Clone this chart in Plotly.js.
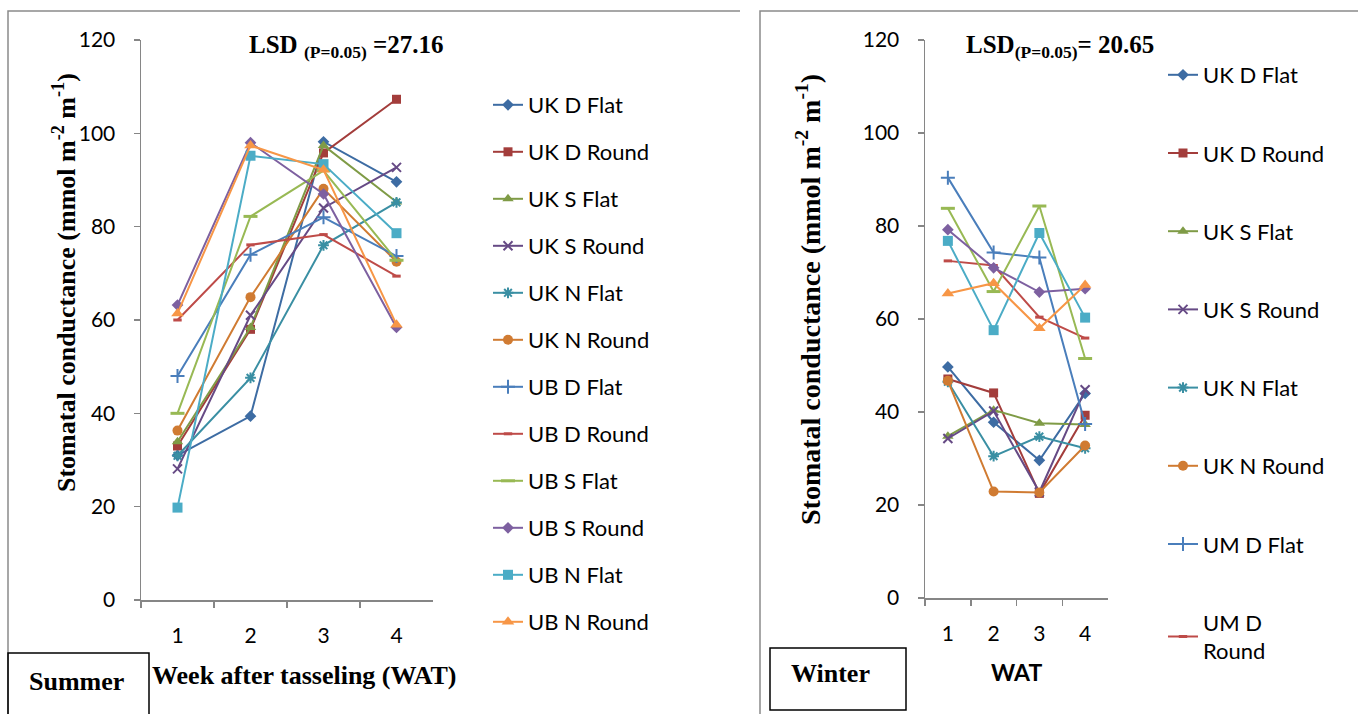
<!DOCTYPE html>
<html>
<head>
<meta charset="utf-8">
<script src="https://cdn.plot.ly/plotly-3.0.1.min.js"></script>
<style>html,body{margin:0;padding:0;background:#fff;}#chart{width:1358px;height:714px;}</style>
</head>
<body>
<div id="chart"></div>
<script>
// ---------- DATA ----------
const weeks = ["1", "2", "3", "4"];

const summerNames = ["UK D Flat", "UK D Round", "UK S Flat", "UK S Round", "UK N Flat", "UK N Round",
                     "UB D Flat", "UB D Round", "UB S Flat", "UB S Round", "UB N Flat", "UB N Round"];
const winterNames = ["UK D Flat", "UK D Round", "UK S Flat", "UK S Round", "UK N Flat", "UK N Round",
                     "UM D Flat", "UM D<br>Round", "UM S Flat", "UM S Round", "UM N Flat", "UM N Round"];

const summerUKDFlat  = [31.0, 39.4, 98.2, 89.6];
const summerUKDRound = [33.0, 58.0, 95.8, 107.3];
const summerUKSFlat  = [33.9, 58.4, 97.4, 85.3];
const summerUKSRound = [28.1, 61.0, 84.0, 92.7];
const summerUKNFlat  = [30.9, 47.6, 76.0, 85.2];
const summerUKNRound = [36.3, 64.9, 88.1, 72.5];
const summerUBDFlat  = [48.0, 74.0, 82.0, 73.7];
const summerUBDRound = [60.0, 76.1, 78.3, 69.4];
const summerUBSFlat  = [40.0, 82.2, 92.0, 72.8];
const summerUBSRound = [63.2, 98.0, 87.0, 58.4];
const summerUBNFlat  = [19.8, 95.2, 93.4, 78.6];
const summerUBNRound = [61.4, 97.4, 92.2, 59.0];

const winterUKDFlat  = [49.7, 37.8, 29.6, 44.0];
const winterUKDRound = [47.1, 44.1, 22.5, 39.3];
const winterUKSFlat  = [34.8, 40.4, 37.6, 37.3];
const winterUKSRound = [34.3, 40.2, 22.8, 44.8];
const winterUKNFlat  = [46.5, 30.5, 34.7, 32.2];
const winterUKNRound = [46.7, 22.9, 22.7, 32.8];
const winterUMDFlat  = [90.4, 74.3, 73.2, 37.4];
const winterUMDRound = [72.5, 71.5, 60.4, 55.9];
const winterUMSFlat  = [83.8, 65.9, 84.3, 51.5];
const winterUMSRound = [79.2, 71.0, 65.8, 66.5];
const winterUMNFlat  = [76.8, 57.6, 78.5, 60.3];
const winterUMNRound = [65.5, 67.7, 58.0, 67.3];

const summerValues = [summerUKDFlat, summerUKDRound, summerUKSFlat, summerUKSRound, summerUKNFlat, summerUKNRound,
                      summerUBDFlat, summerUBDRound, summerUBSFlat, summerUBSRound, summerUBNFlat, summerUBNRound];
const winterValues = [winterUKDFlat, winterUKDRound, winterUKSFlat, winterUKSRound, winterUKNFlat, winterUKNRound,
                      winterUMDFlat, winterUMDRound, winterUMSFlat, winterUMSRound, winterUMNFlat, winterUMNRound];

// ---------- STYLE ----------
const colors = ["#3D6CA3", "#A33D3B", "#7F9B46", "#664A85", "#3A8FA3", "#D07B32",
                "#4A7EBB", "#BE4B48", "#98B954", "#7D60A0", "#4BACC6", "#F79646"];
const markers = [
  {symbol: "diamond", size: 9, lw: 0},
  {symbol: "square", size: 9, lw: 0},
  {symbol: "triangle-up", size: 10, lw: 0},
  {symbol: "x-thin-open", size: 9, lw: 2},
  {symbol: "asterisk-open", size: 9, lw: 2},
  {symbol: "circle", size: 10, lw: 0},
  {symbol: "cross-thin-open", size: 10, lw: 2},
  {symbol: "line-ew-open", size: 6, lw: 3},
  {symbol: "line-ew-open", size: 10, lw: 3},
  {symbol: "diamond", size: 9, lw: 0},
  {symbol: "square", size: 10, lw: 0},
  {symbol: "triangle-up", size: 11, lw: 0}
];

const W = 1358, H = 714;
const px = v => v / W;
const py = v => 1 - v / H;

const serif = "Liberation Serif, Times New Roman, serif";
const sans = "Lato, Calibri, Carlito, sans-serif";

const traces = [];
function addSeries(names, values, xa, ya, legendName, nLegend) {
  names.forEach((nm, i) => {
    traces.push({
      type: "scatter", mode: "lines+markers",
      x: weeks, y: values[i], name: nm,
      xaxis: xa, yaxis: ya,
      legend: legendName,
      legendgroup: legendName + "_" + i,
      showlegend: i < nLegend,
      line: {color: colors[i], width: 2},
      marker: {symbol: markers[i].symbol, size: markers[i].size, color: colors[i],
               line: {color: colors[i], width: markers[i].lw}},
      hoverinfo: "name+y"
    });
  });
}
addSeries(summerNames, summerValues, "x", "y", "legend", 12);
addSeries(winterNames, winterValues, "x2", "y2", "legend2", 8);

const axisLine = "#868686";
function xAxis(d0, d1, anchor) {
  return {domain: [px(d0), px(d1)], anchor: anchor, type: "category", range: [-0.5, 3.5],
    showline: true, linecolor: axisLine, linewidth: 1.5, ticks: "outside", ticklen: 6,
    tickcolor: axisLine, tickwidth: 1.5, tickson: "boundaries", showgrid: false, zeroline: false,
    tickfont: {family: sans, size: 21, color: "#000"}, ticklabelstandoff: 16, fixedrange: true};
}
function yAxis(d0, d1, anchor) {
  return {domain: [py(d1), py(d0)], anchor: anchor, range: [0, 120], dtick: 20, tick0: 0,
    showline: true, linecolor: axisLine, linewidth: 1.5, ticks: "outside", ticklen: 6,
    tickcolor: axisLine, tickwidth: 1.5, showgrid: false, zeroline: false,
    tickfont: {family: sans, size: 21, color: "#000"}, ticklabelstandoff: 14, fixedrange: true};
}

const layout = {
  width: W, height: H,
  margin: {l: 0, r: 0, t: 0, b: 0},
  paper_bgcolor: "#fff", plot_bgcolor: "#fff",
  showlegend: true,
  xaxis: xAxis(141, 433, "y"),
  yaxis: yAxis(40, 600, "x"),
  xaxis2: xAxis(925, 1108, "y2"),
  yaxis2: yAxis(40, 598, "x2"),
  legend: {x: px(488), y: py(84), xanchor: "left", yanchor: "top", traceorder: "grouped",
           tracegroupgap: 15.4, font: {family: sans, size: 22, color: "#000"}, bgcolor: "rgba(0,0,0,0)"},
  legend2: {x: px(1163), y: py(54), xanchor: "left", yanchor: "top", traceorder: "grouped",
           tracegroupgap: 46.6, font: {family: sans, size: 22, color: "#000"}, bgcolor: "rgba(0,0,0,0)"},
  annotations: [
    {xref: "paper", yref: "paper", x: px(346), y: py(47), xanchor: "center", yanchor: "middle", showarrow: false,
     text: "<b>LSD <sub>(P=0.05)</sub> =27.16</b>", font: {family: serif, size: 25, color: "#000"}},
    {xref: "paper", yref: "paper", x: px(1060), y: py(47), xanchor: "center", yanchor: "middle", showarrow: false,
     text: "<b>LSD<sub>(P=0.05)</sub>= 20.65</b>", font: {family: serif, size: 25, color: "#000"}},
    {xref: "paper", yref: "paper", x: px(65), y: py(283), xanchor: "center", yanchor: "middle", showarrow: false,
     textangle: -90, text: "<b>Stomatal conductance (mmol m<sup>-2</sup> m<sup>-1</sup>)</b>",
     font: {family: serif, size: 26, color: "#000"}},
    {xref: "paper", yref: "paper", x: px(808), y: py(300), xanchor: "center", yanchor: "middle", showarrow: false,
     textangle: -90, text: "<b>Stomatal conductance (mmol m<sup>-2</sup> m<sup>-1</sup>)</b>",
     font: {family: serif, size: 28, color: "#000"}},
    {xref: "paper", yref: "paper", x: px(304), y: py(675), xanchor: "center", yanchor: "middle", showarrow: false,
     text: "<b>Week after tasseling (WAT)</b>", font: {family: serif, size: 26, color: "#000"}},
    {xref: "paper", yref: "paper", x: px(1016), y: py(672), xanchor: "center", yanchor: "middle", showarrow: false,
     text: "<b>WAT</b>", font: {family: sans, size: 23, color: "#000"}},
    {xref: "paper", yref: "paper", x: px(76), y: py(681), xanchor: "center", yanchor: "middle", showarrow: false,
     text: "<b>Summer</b>", font: {family: serif, size: 26, color: "#000"}},
    {xref: "paper", yref: "paper", x: px(830), y: py(673), xanchor: "center", yanchor: "middle", showarrow: false,
     text: "<b>Winter</b>", font: {family: serif, size: 26, color: "#000"}}
  ],
  shapes: [
    {type: "path", xref: "paper", yref: "paper", path: `M ${px(8)} ${py(720)} L ${px(8)} ${py(11)} L ${px(740)} ${py(11)}`,
     line: {color: "#8a8a8a", width: 1.5}},
    {type: "path", xref: "paper", yref: "paper", path: `M ${px(760)} ${py(720)} L ${px(760)} ${py(11)} L ${px(1365)} ${py(11)}`,
     line: {color: "#8a8a8a", width: 1.5}},
    {type: "rect", xref: "paper", yref: "paper", x0: px(8), x1: px(149), y0: py(720), y1: py(653),
     line: {color: "#000", width: 1.5}, fillcolor: "rgba(0,0,0,0)"},
    {type: "rect", xref: "paper", yref: "paper", x0: px(770), x1: px(906), y0: py(710), y1: py(648),
     line: {color: "#000", width: 1.5}, fillcolor: "rgba(0,0,0,0)"}
  ]
};

Plotly.newPlot("chart", traces, layout, {staticPlot: true, displayModeBar: false});
</script>
</body>
</html>
